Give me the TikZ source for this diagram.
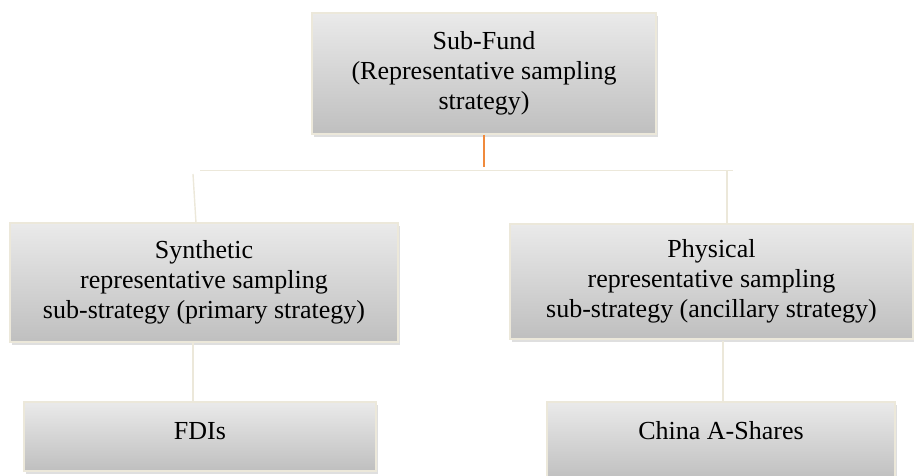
\documentclass[tikz,border=0pt]{standalone}
\usepackage{fontspec}
\setmainfont{Liberation Serif}
\usetikzlibrary{shadows}
\definecolor{cream}{HTML}{ECE8DA}
\definecolor{boxtop}{HTML}{EAEAEA}
\definecolor{boxbot}{HTML}{BFBFBF}
\definecolor{linkorange}{HTML}{F08A3C}
\tikzset{
    stratbox/.style = {draw = cream, line width = 1.6pt, top color = boxtop, bottom color = boxbot,
        align = center, inner sep = 0pt, font = \fontsize{26}{30}\selectfont,
        drop shadow = {shadow xshift = 2pt, shadow yshift = -3pt, opacity = 0.25}},
    link/.style = {draw = cream, line width = 1.4pt}
}
\begin{document}
\begin{tikzpicture}[x = 1pt, y = -1pt]
        \useasboundingbox (0, 0) rectangle (914, 476);

        \node [stratbox, minimum width = 344pt, minimum height = 121pt] (fund) at (484, 73.5)
            {Sub-Fund\\(Representative sampling\\strategy)};
        \node [stratbox, minimum width = 388pt, minimum height = 119pt] (synth) at (204, 282.5)
            {Synthetic\\representative sampling\\sub-strategy (primary strategy)};
        \node [stratbox, minimum width = 403pt, minimum height = 115pt] (phys) at (711.5, 281.5)
            {Physical\\representative sampling\\sub-strategy (ancillary strategy)};
        \node [stratbox, minimum width = 352pt, minimum height = 69pt, text depth = 12pt] (fdi) at (200, 436.5) {FDIs};
        \node [stratbox, minimum width = 348pt, minimum height = 78pt, text depth = 22pt] (ashares) at (721, 441) {China A-Shares};

        \coordinate (junc) at (484, 167);
        \coordinate (busl) at (200, 170.5);
        \coordinate (busr) at (733, 170.5);
        \coordinate (synthtop) at (193, 174);
        \coordinate (synthin) at (196, 223);
        \coordinate (physin) at (727, 171);
        \coordinate (synthout) at (193, 343);
        \coordinate (physout) at (723, 341);

        \draw [link] (busl) -- (busr);
        \draw [draw = linkorange, line width = 1.4pt] (fund.south) -- (junc);
        \draw [link] (synthtop) -- (synthin);
        \draw [link] (physin) -- (physin |- phys.north);
        \draw [link] (synthout) -- (synthout |- fdi.north);
        \draw [link] (physout) -- (physout |- ashares.north);
    \end{tikzpicture}
\end{document}
